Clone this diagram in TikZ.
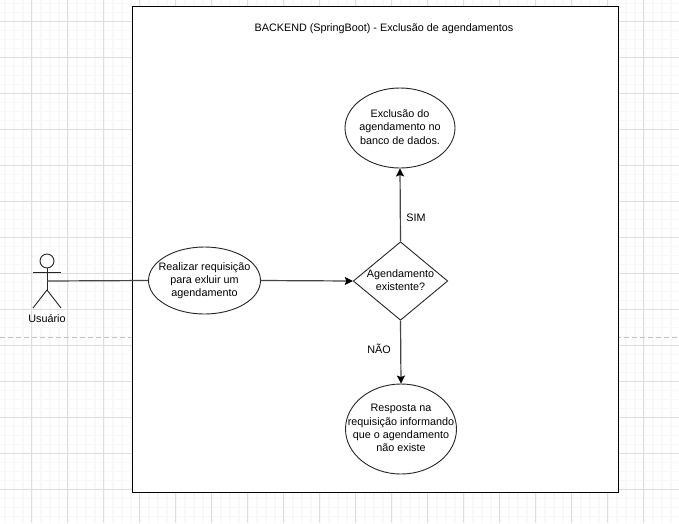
\documentclass[tikz,border=0pt]{standalone}
\usepackage{fontspec}
\setmainfont{Liberation Sans}
\usetikzlibrary{shapes.geometric,arrows.meta}
\definecolor{gridmajor}{HTML}{DEDEDE}
\definecolor{gridminor}{HTML}{F8F8F8}
\definecolor{dashgray}{HTML}{C4C4C4}
\definecolor{wirecol}{HTML}{444444}
\newcommand{\flattext}[1]{\makebox[0pt]{\raisebox{-3pt}[0pt][0pt]{\begin{tabular}{@{}c@{}}#1\end{tabular}}}}
\tikzset{
  x=1pt,y=-1pt,
  every node/.style={font=\fontsize{10.8}{13.3}\selectfont,align=center,inner sep=0pt,text=black},
  blob/.style={draw=black!85,line width=0.9pt,ellipse,fill=white},
  decision/.style={draw=black!85,line width=0.9pt,diamond,fill=white,aspect=1.21,minimum width=94.5pt,minimum height=78.5pt},
  wire/.style={draw=wirecol,line width=1.2pt},
  flow/.style={wire,-{Stealth[length=8pt,width=8pt,inset=1.5pt,black]}},
  stick/.style={draw=black!85,line width=0.9pt},
  tag/.style={text=black}
}
\begin{document}
\begin{tikzpicture}
\useasboundingbox (0,0) rectangle (679,523);
\fill[white] (0,0) rectangle (679,523);
% minor grid
\foreach \k in {0,...,75} \draw[gridminor,line width=1.6pt] ({4.7+9*\k},0) -- ({4.7+9*\k},523);
\foreach \k in {0,...,58} \draw[gridminor,line width=1.6pt] (0,{3.5+9*\k}) -- (679,{3.5+9*\k});
% major grid
\foreach \k in {0,...,18} \draw[gridmajor,line width=1pt] ({31.7+36*\k},0) -- ({31.7+36*\k},523);
\foreach \k in {0,...,14} \draw[gridmajor,line width=1pt] (0,{21.5+36*\k}) -- (679,{21.5+36*\k});
% page break
\draw[dashgray,line width=1pt,dash pattern=on 5pt off 3pt] (0,337) -- (679,337);
% container
\node[draw=black,line width=1pt,fill=white,minimum width=486pt,minimum height=486pt] (backend) at (375.3,249.3) {};
\node (title) at (384,28.5) {BACKEND (SpringBoot) - Exclusão de agendamentos};
% actor
\coordinate (hip) at (47,290);
\coordinate (neck) at (47,268);
\coordinate (actorc) at (47,281);
\draw[stick] (47,261) circle (7);
\draw[stick] (neck) -- (hip);
\draw[stick] (33,272) -- (61,272);
\draw[stick] (33,308) -- (hip) -- (61,308);
\node (user) at (47,319) {Usuário};
% nodes
\node[blob,minimum width=112pt,minimum height=67pt] (req) at (204.5,280.5) {\flattext{Realizar requisição\\para exluir um\\agendamento}};
\node[decision] (dec) at (400.5,281) {\flattext{Agendamento\\existente?}};
\node[blob,minimum width=110pt,minimum height=80pt] (del) at (400,128) {\flattext{Exclusão do\\agendamento no\\banco de dados.}};
\node[blob,minimum width=111pt,minimum height=90pt] (resp) at (401,429) {\flattext{Resposta na\\requisição informando\\que o agendamento\\não existe}};
% connectors
\draw[wire] (actorc) -- (req.west);
\draw[flow] (req.east) -- (dec.west);
\draw[flow] (dec.north) -- (del.south);
\draw[flow] (dec.south) -- (resp.north);
\node[tag] (sim) at (416,217.5) {SIM};
\node[tag] (nao) at (379,348.5) {NÃO};
\end{tikzpicture}
\end{document}
